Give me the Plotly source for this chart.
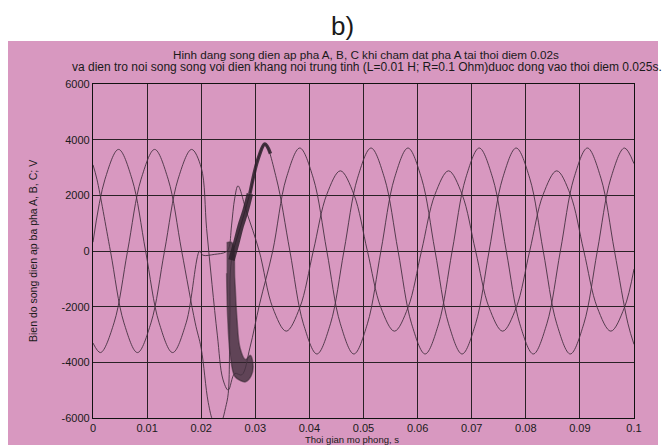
import plotly.graph_objects as go

# ---------------- data ----------------
# Phase A
tA = [0, 0.00222, 0.00472, 0.00722, 0.00972, 0.01222, 0.01472, 0.01722, 0.01972,
      0.0203, 0.0225, 0.0245, 0.0251, 0.0256, 0.0262, 0.0268, 0.0284,
      0.03072, 0.03322, 0.03572, 0.03822, 0.04072, 0.04322, 0.04572, 0.04822,
      0.05072, 0.05322, 0.05572, 0.05822, 0.06072, 0.06322, 0.06572, 0.06822,
      0.07072, 0.07322, 0.07572, 0.07822, 0.08072, 0.08322, 0.08572, 0.08822,
      0.09072, 0.09322, 0.09572, 0.09822, 0.1]
vA = [318, 2581, 3650, 2581, 0, -2581, -3650, -2581, 0,
      -150, -120, -40, 100, 900, 1900, 2340, 1400,
      0, -2036, -2880, -2036, 0, 2036, 2880, 2036,
      0, -2036, -2880, -2036, 0, 2036, 2880, 2036,
      0, -2036, -2880, -2036, 0, 2036, 2880, 2036,
      0, -2036, -2880, -2036, -648]

# Phase B
tB = [0, 0.00139, 0.00389, 0.00639, 0.00889, 0.01139, 0.01389, 0.01639, 0.01889,
      0.0200, 0.0213, 0.0222, 0.0230, 0.0238, 0.0245, 0.0250, 0.0253, 0.0256,
      0.0273, 0.0290, 0.0305, 0.0318,
      0.03389, 0.03639, 0.03889, 0.04139, 0.04389, 0.04639, 0.04889, 0.05139,
      0.05389, 0.05639, 0.05889, 0.06139, 0.06389, 0.06639, 0.06889, 0.07139,
      0.07389, 0.07639, 0.07889, 0.08139, 0.08389, 0.08639, 0.08889, 0.09139,
      0.09389, 0.09639, 0.09889, 0.1]
vB = [-3307, -3650, -2581, 0, 2581, 3650, 2581, 0, -2581,
      -3500, -5440, -6120, -6320, -6120, -5630, -5113, -2500, -330,
      900, 2060, 3300, 3840,
      2616, 0, -2616, -3700, -2616, 0, 2616, 3700,
      2616, 0, -2616, -3700, -2616, 0, 2616, 3700,
      2616, 0, -2616, -3700, -2616, 0, 2616, 3700,
      2616, 0, -2616, -3353]

# Phase C
tC = [0, 0.00072, 0.00322, 0.00572, 0.00822, 0.01072, 0.01322, 0.01572, 0.01822,
      0.0200, 0.0210, 0.0220, 0.0230, 0.0240, 0.0250, 0.0262, 0.0275, 0.0290,
      0.0308, 0.03322, 0.03572, 0.03822, 0.04072, 0.04322, 0.04572, 0.04822,
      0.05072, 0.05322, 0.05572, 0.05822, 0.06072, 0.06322, 0.06572, 0.06822,
      0.07072, 0.07322, 0.07572, 0.07822, 0.08072, 0.08322, 0.08572, 0.08822,
      0.09072, 0.09322, 0.09572, 0.09822, 0.1]
vC = [3095, 2581, 0, -2581, -3650, -2581, 0, 2581, 3650,
      3000, 800, -1200, -3050, -4600, -5000, -4400, -4450, -3480,
      -1900, 0, 2616, 3700, 2616, 0, -2616, -3700,
      -2616, 0, 2616, 3700, 2616, 0, -2616, -3700,
      -2616, 0, 2616, 3700, 2616, 0, -2616, -3700,
      -2616, 0, 2616, 3700, 3138]

# dense ringing band right after switching (outline of the dark area)
tRing = [0.0247, 0.0257, 0.0262, 0.0266, 0.0272, 0.0282, 0.0291, 0.0296,
         0.0292, 0.0282, 0.0272, 0.0262, 0.0254, 0.0249, 0.0247]
vRing = [300, 300, -1000, -2400, -3500, -3900, -3750, -4150,
         -4500, -4700, -4650, -4500, -3800, -2400, -800]

# thicker parts of the transient of phase B
tBthick = [0.0256, 0.0265, 0.0273, 0.0282, 0.0290]
vBthick = [-330, 300, 900, 1450, 2060]
tBpeak = [0.0290, 0.0305, 0.0318, 0.0328]
vBpeak = [2060, 3300, 3840, 3500]

xTicks = [0, 0.01, 0.02, 0.03, 0.04, 0.05, 0.06, 0.07, 0.08, 0.09, 0.1]
xTickText = ['0', '0.01', '0.02', '0.03', '0.04', '0.05', '0.06', '0.07', '0.08', '0.09', '0.1']
yTicks = [-6000, -4000, -2000, 0, 2000, 4000, 6000]
yTickText = ['-6000', '-4000', '-2000', '0', '2000', '4000', '6000']

title1 = 'Hinh dang song dien ap pha A, B, C khi cham dat pha A tai thoi diem 0.02s'
title2 = 'va dien tro noi song song voi dien khang noi trung tinh (L=0.01 H; R=0.1 Ohm)duoc dong vao thoi diem 0.025s.'
ytitle = 'Bien do song dien ap ba pha A, B, C; V'
xtitle = 'Thoi gian mo phong, s'

# ---------------- styling ----------------
PINK = '#d898c0'
LINE = 'rgba(70,50,65,0.9)'
DARK = 'rgba(45,32,42,0.85)'
GRID = '#2a2126'
FONT = 'Liberation Sans, Arial, sans-serif'

fig = go.Figure()
fig.add_trace(go.Scatter(x=tRing, y=vRing, mode='lines', fill='toself',
                         fillcolor='rgba(50,36,46,0.72)',
                         line=dict(color='rgba(50,36,46,0.5)', width=1.5, shape='spline')))
for t, v in [(tA, vA), (tB, vB), (tC, vC)]:
    fig.add_trace(go.Scatter(x=t, y=v, mode='lines',
                             line=dict(color=LINE, width=1, shape='spline', smoothing=1.0)))
fig.add_trace(go.Scatter(x=tBthick, y=vBthick, mode='lines',
                         line=dict(color=DARK, width=6.5, shape='spline')))
fig.add_trace(go.Scatter(x=tBpeak, y=vBpeak, mode='lines',
                         line=dict(color=DARK, width=3.5, shape='spline')))

axis_common = dict(showgrid=True, gridcolor=GRID, gridwidth=1.3, showline=True,
                   linecolor='#111', linewidth=1.2, mirror=True, ticks='',
                   zeroline=False, tickfont=dict(family=FONT, size=11, color='#1a1a1a'))
fig.update_xaxes(range=[0, 0.1], tickvals=xTicks, ticktext=xTickText, **axis_common)
fig.update_yaxes(range=[-6000, 6000], tickvals=yTicks, ticktext=yTickText, **axis_common)

L, R, T, B = 93, 35, 84, 27
W, H = 669, 445
pw, ph = W - L - R, H - T - B


def px(x):
    return (x - L) / pw


def py(y):
    return (H - B - y) / ph


def ann(text, x, y, size, angle=0):
    return dict(text=text, x=px(x), y=py(y), xref='paper', yref='paper', showarrow=False,
                xanchor='center', yanchor='middle', textangle=angle,
                font=dict(size=size, family=FONT, color='#1a1a1a'))


fig.update_layout(
    width=W, height=H, margin=dict(l=L, r=R, t=T, b=B),
    paper_bgcolor='white', plot_bgcolor='rgba(0,0,0,0)', showlegend=False,
    font=dict(family=FONT, color='#1a1a1a'),
    shapes=[dict(type='rect', xref='paper', yref='paper', x0=px(8), x1=px(658),
                 y0=py(450), y1=py(41), fillcolor=PINK, line=dict(width=0), layer='below')],
    annotations=[
        ann('b)', 342, 26, 26),
        ann(title1, 366, 54, 11.7),
        ann(title2, 367, 67, 12),
        ann(ytitle, 33, 251, 10.5, -90),
        ann(xtitle, 352, 439.5, 9.5),
    ],
)

fig.write_html('out.html')
